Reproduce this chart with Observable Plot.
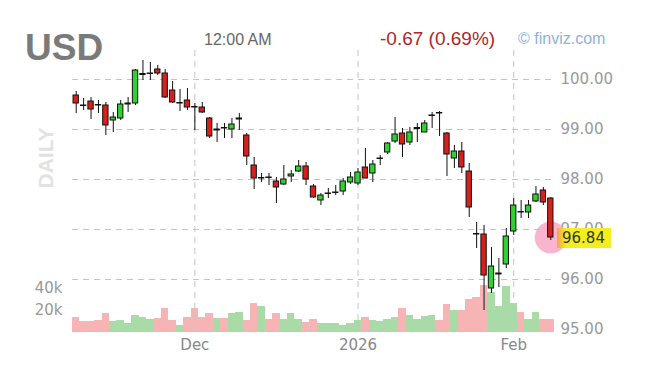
<!DOCTYPE html>
<html><head><meta charset="utf-8">
<script src="https://cdn.jsdelivr.net/npm/d3@7"></script>
<script src="https://cdn.jsdelivr.net/npm/@observablehq/plot@0.6"></script>
<style>
body{margin:0;background:#fff;}
#wrap{position:relative;width:650px;height:378px;overflow:hidden;font-family:"Liberation Sans",Arial,sans-serif;background:#fff;}
#wrap svg{position:absolute;left:0;top:0;}
.t{position:absolute;white-space:nowrap;line-height:1;}
</style></head><body><div id="wrap"></div>
<script>
// Daily candles, mid-Nov 2025 .. early Feb 2026
const opens  = [99.68,99.48,99.56,99.49,99.48,99.18,99.22,99.50,99.52,100.09,100.11,100.20,100.12,99.78,99.52,99.58,99.45,99.44,99.22,98.98,99.03,99.00,99.20,98.88,98.28,98.02,98.04,97.96,97.90,98.06,98.16,98.26,97.86,97.58,97.71,97.73,97.76,97.94,97.92,98.24,98.12,98.41,98.54,98.76,98.92,98.74,99.01,98.94,99.27,99.33,98.92,98.42,98.56,98.16,96.91,96.90,95.82,96.10,96.30,96.96,97.35,97.34,97.56,97.78,97.62];
const closes = [99.52,99.47,99.40,99.48,99.08,99.24,99.50,99.52,100.18,100.11,100.12,100.12,99.64,99.54,99.53,99.44,99.44,99.34,98.86,99.00,99.02,99.10,99.22,98.46,98.02,98.03,98.03,97.84,98.00,98.10,98.26,98.00,97.64,97.68,97.72,97.74,97.96,98.04,98.14,98.02,98.30,98.42,98.72,98.90,98.70,98.94,99.03,99.12,99.28,99.32,98.50,98.56,98.24,97.44,96.90,96.08,96.26,96.12,96.86,97.48,97.34,97.48,97.70,97.54,96.84];
const highs  = [99.76,99.62,99.64,99.58,99.54,99.34,99.58,99.64,100.20,100.38,100.34,100.28,100.20,99.96,99.80,99.82,99.52,99.54,99.24,99.12,99.12,99.22,99.32,98.92,98.44,98.12,98.12,98.04,98.28,98.18,98.38,98.34,97.90,97.72,97.82,97.88,98.02,98.14,98.22,98.62,98.38,98.48,98.74,99.24,99.02,99.04,99.12,99.18,99.34,99.36,98.94,98.68,98.74,98.32,97.14,97.08,96.64,96.42,97.02,97.62,97.58,97.58,97.86,97.84,97.64];
const lows   = [99.32,99.38,99.20,99.32,98.88,98.94,99.18,99.34,99.48,99.98,99.98,100.08,99.62,99.52,99.36,99.38,98.98,99.32,98.82,98.74,98.82,98.82,98.98,98.28,97.80,97.94,97.88,97.52,97.88,97.94,98.14,97.88,97.62,97.48,97.62,97.68,97.68,97.90,97.88,98.02,97.94,98.28,98.50,98.72,98.44,98.68,98.74,98.94,99.02,98.86,98.06,98.22,98.12,97.24,96.62,95.38,95.72,95.84,96.22,96.88,97.22,97.22,97.54,97.48,96.78];
// volume, thousands
const volumes = [13.9,10.3,10.3,10.5,17.0,10.3,11.0,8.2,15.5,13.9,11.5,12.4,21.5,10.9,6.4,13.9,21.5,13.9,17.0,12.4,12.4,17.6,18.5,10.9,26.1,23.6,11.5,17.0,11.5,17.0,11.5,9.4,11.5,8.5,8.5,7.9,6.4,7.9,10.9,13.9,10.9,10.3,11.5,13.9,21.5,15.5,11.5,14.5,15.5,10.9,25.5,20.0,20.0,29.7,31.5,42.7,36.7,23.6,41.8,26.1,18.2,11.5,18.5,11.5,11.5];

const monthTicks  = [17, 39, 60];
const monthLabels = ["Dec", "2026", "Feb"];
const priceTicks  = [95, 96, 97, 98, 99, 100];
const gridPrices  = [96, 97, 98, 99, 100];
const volTicks    = [20, 40];

const n = opens.length;
const candles = opens.map((o, k) => ({i: k + 1, open: o, close: closes[k], high: highs[k], low: lows[k], vol: volumes[k]}));
const up = d => d.close >= d.open;

const W = 650, H = 378, ML = 72, MR = 96, MT = 50, MB = 43;
const font = {background: "transparent", fontFamily: "DejaVu Sans, Verdana, sans-serif", fontSize: "15px", color: "#999"};

const volPlot = Plot.plot({
  width: W, height: H, marginLeft: ML, marginRight: MR, marginTop: MT, marginBottom: MB,
  x: {domain: [0.5, n + 0.5], axis: null, label: null},
  y: {domain: [0, 40], range: [332, 288], axis: null, label: null},
  style: font,
  marks: [
    Plot.rect(candles, {x1: d => d.i - 0.5, x2: d => d.i + 0.5, y1: 0, y2: "vol",
      fill: d => up(d) ? "#a9dba9" : "#f6b5b4", shapeRendering: "crispEdges"}),
    Plot.axisY({anchor: "left", ticks: volTicks, tickFormat: d => d + "k", tickSize: 0, tickPadding: 10, fill: "#999", fontSize: 15, label: null})
  ]
});

const pricePlot = Plot.plot({
  width: W, height: H, marginLeft: ML, marginRight: MR, marginTop: MT, marginBottom: MB,
  x: {domain: [0.5, n + 0.5], axis: null, label: null},
  y: {domain: [95, 100], range: [329, 79], axis: null, label: null},
  style: font,
  marks: [
    Plot.gridY({ticks: gridPrices, stroke: "#c4c4c4", strokeOpacity: 1, strokeDasharray: "6,5"}),
    Plot.gridX({ticks: monthTicks, stroke: "#c4c4c4", strokeOpacity: 1, strokeDasharray: "6,5"}),
    Plot.axisY({anchor: "right", ticks: priceTicks, tickFormat: d => d.toFixed(2), tickSize: 0, tickPadding: 6, fill: "#999", fontSize: 15, label: null}),
    Plot.axisX({ticks: monthTicks, tickFormat: d => monthLabels[monthTicks.indexOf(d)], tickSize: 0, tickPadding: 4, fill: "#888", fontSize: 15, label: null}),
    Plot.dot([candles[n - 1]], {x: "i", y: "close", r: 16, fill: "#f7a8c4", fillOpacity: 0.85}),
    Plot.ruleX(candles, {x: "i", y1: "low", y2: "high", stroke: "#111", strokeWidth: 1}),
    Plot.rect(candles, {x1: d => d.i - 0.36, x2: d => d.i + 0.36, y1: "open", y2: "close",
      fill: d => up(d) ? "#2fd22f" : "#d7201c", stroke: "#111", strokeWidth: 1})
  ]
});

const wrap = document.getElementById("wrap");
wrap.appendChild(volPlot);
wrap.appendChild(pricePlot);

function addText(txt, css) {
  const d = document.createElement("div");
  d.className = "t";
  d.textContent = txt;
  Object.assign(d.style, css);
  wrap.appendChild(d);
  return d;
}
addText("USD", {left: "25px", top: "29px", fontSize: "37px", fontWeight: "bold", color: "#7a7a7a"});
addText("12:00 AM", {left: "204px", top: "32px", fontSize: "16px", color: "#666"});
addText("-0.67 (0.69%)", {left: "380px", top: "29px", fontSize: "19px", color: "#b0262a"});
addText("\u00A9 finviz.com", {left: "518px", top: "31px", fontSize: "16px", color: "#8db2d6"});
addText("DAILY", {left: "45px", top: "158px", fontSize: "21px", fontWeight: "bold", color: "#e2e2e2",
  transform: "translate(-50%,-50%) rotate(-90deg)"});

// last-price tag placed through the price scale
const last = closes[n - 1];
const yLast = pricePlot.scale("y").apply(last);
addText(last.toFixed(2), {left: "557px", top: (yLast - 9) + "px", height: "20px", lineHeight: "20px", width: "54px",
  paddingLeft: "5px", boxSizing: "border-box", fontFamily: "DejaVu Sans, Verdana, sans-serif", fontSize: "15px", color: "#333",
  background: "linear-gradient(to right, #f4a44a 0px, #f3ee1c 9px)"});
</script></body></html>
